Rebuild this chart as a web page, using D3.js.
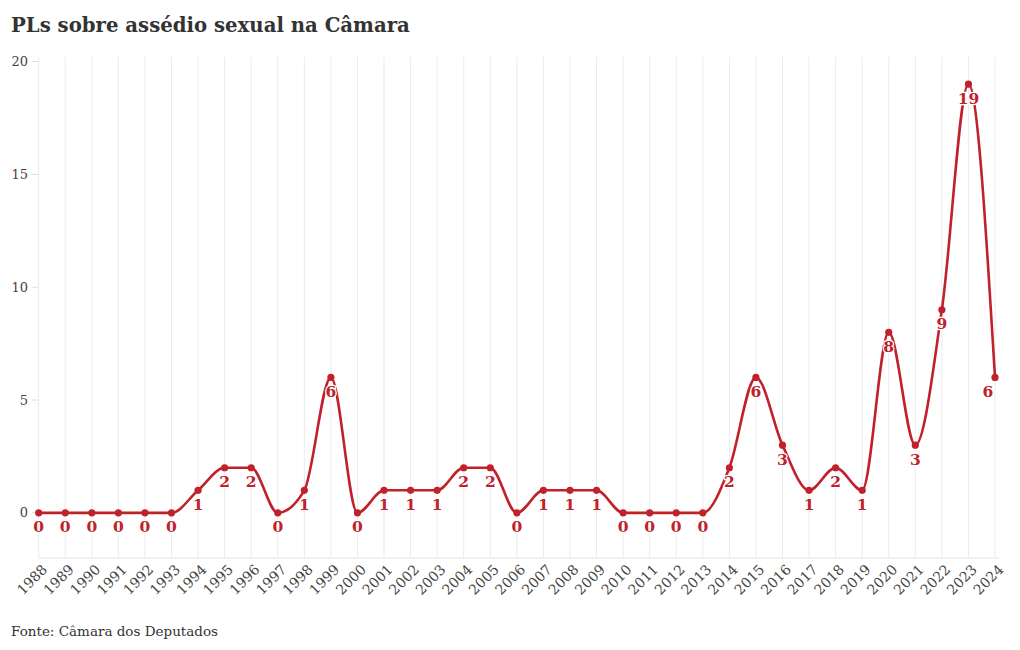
<!DOCTYPE html>
<html><head><meta charset="utf-8">
<script src="https://cdn.jsdelivr.net/npm/d3@7"></script>
<style>
body{margin:0;background:#fff;}
svg{font-family:"DejaVu Serif",serif;}
</style></head>
<body><svg id="c" width="1020" height="650"></svg>
<script>
const years = d3.range(1988, 2025);
const values = [0,0,0,0,0,0,1,2,2,0,1,6,0,1,1,1,2,2,0,1,1,1,0,0,0,0,2,6,3,1,2,1,8,3,9,19,6];
const yTicks = [0,5,10,15,20];
const title = "PLs sobre assédio sexual na Câmara";
const source = "Fonte: Câmara dos Deputados";
const red = "#c0212a";

const svg = d3.select("#c");
const x = d3.scaleLinear().domain([1988, 2024]).range([38.7, 995]);
const y = d3.scaleLinear().domain([-2, 20.2]).range([558, 57]);

// vertical gridlines
svg.append("g").selectAll("line").data(years).join("line")
  .attr("x1", d => x(d)).attr("x2", d => x(d))
  .attr("y1", y(20.2)).attr("y2", y(-2))
  .attr("stroke", "#ebebeb").attr("stroke-width", 1);
// bottom axis line
svg.append("line").attr("x1", x(1988)).attr("x2", x(2024)+4)
  .attr("y1", y(-2)).attr("y2", y(-2)).attr("stroke", "#e6e6e6");

// y ticks
const yg = svg.append("g");
yg.selectAll("line").data(yTicks).join("line")
  .attr("x1", 32).attr("x2", 38).attr("y1", d => y(d)).attr("y2", d => y(d))
  .attr("stroke", "#dcdcdc");
yg.selectAll("text").data(yTicks).join("text")
  .attr("x", 28).attr("y", d => y(d)).attr("dy", "0.35em")
  .attr("text-anchor", "end").attr("font-size", 13).attr("fill", "#444")
  .text(d => d);

// x tick labels
svg.append("g").selectAll("text").data(years).join("text")
  .attr("transform", d => `translate(${x(d)+6},${567}) rotate(-45)`)
  .attr("text-anchor", "end").attr("dy", "0.35em")
  .attr("font-size", 14).attr("fill", "#444")
  .text(d => d);

// line
const data = years.map((yr, i) => ({yr, v: values[i]}));
svg.append("path").datum(data)
  .attr("d", d3.line().x(d => x(d.yr)).y(d => y(d.v)).curve(d3.curveMonotoneX))
  .attr("fill", "none").attr("stroke", red).attr("stroke-width", 2.6);
svg.append("g").selectAll("circle").data(data).join("circle")
  .attr("cx", d => x(d.yr)).attr("cy", d => y(d.v)).attr("r", 3.6).attr("fill", red);

// labels
const last = data.length - 1;
svg.append("g").selectAll("text").data(data).join("text")
  .attr("x", (d, i) => x(d.yr) - (i === last ? 7 : 0)).attr("y", d => y(d.v) + 14).attr("dy", "0.35em")
  .attr("text-anchor", "middle").attr("font-size", 15.5).attr("font-weight", "bold")
  .attr("fill", red).attr("stroke", "#fff").attr("stroke-width", 2.5)
  .attr("paint-order", "stroke")
  .text(d => d.v);

svg.append("text").attr("x", 11).attr("y", 32).attr("font-size", 19.7)
  .attr("font-weight", "bold").attr("fill", "#333").text(title);
svg.append("text").attr("x", 11).attr("y", 636).attr("font-size", 13.5)
  .attr("fill", "#333").text(source);
</script></body></html>
